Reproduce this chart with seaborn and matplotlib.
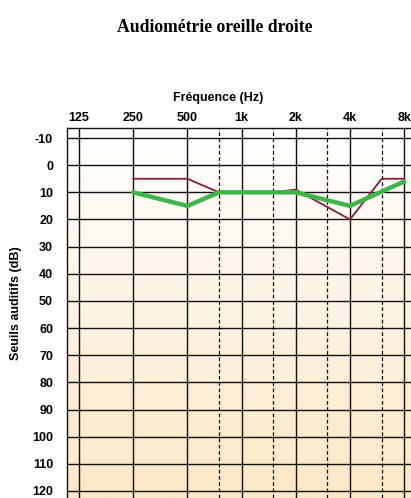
import numpy as np
import pandas as pd
import matplotlib
matplotlib.use("Agg")
import matplotlib.pyplot as plt
import seaborn as sns
from matplotlib.colors import LinearSegmentedColormap

# ---- data ----
freq_labels = ["125", "250", "500", "1k", "2k", "4k", "8k"]
octave_freqs = [125, 250, 500, 1000, 2000, 4000, 8000]
mid_freqs = [750, 1500, 3000, 6000]
db_ticks = list(range(-10, 130, 10))

red_freqs = [250, 500, 750, 1000, 1500, 2000, 4000, 6000, 8000]
red_db = [5, 5, 10, 10, 10, 9, 20, 5, 5]

green_freqs = [250, 500, 750, 1000, 1500, 2000, 4000, 8000]
green_db = [10, 15, 10, 10, 10, 10, 15, 6]

df_red = pd.DataFrame({"freq": red_freqs, "db": red_db})
df_green = pd.DataFrame({"freq": green_freqs, "db": green_db})

sns.set_style("white")
plt.rcParams["font.family"] = ["Liberation Sans", "DejaVu Sans"]
plt.rcParams["text.color"] = "black"
plt.rcParams["xtick.color"] = "black"
plt.rcParams["ytick.color"] = "black"

fig = plt.figure(figsize=(4.11, 4.98), dpi=100)
ax = fig.add_axes([67 / 411, 0.0, 1 - 67 / 411, 1 - 128 / 498])

# background gradient
cmap = LinearSegmentedColormap.from_list("bg", ["#FFFFFF", "#FDF3E2", "#FBE8C5"])
grad = np.linspace(0, 1, 256).reshape(-1, 1)
ax.imshow(grad, cmap=cmap, aspect="auto", extent=[0, 1, 0, 1],
          transform=ax.transAxes, origin="upper", zorder=0)

sns.lineplot(data=df_red, x="freq", y="db", ax=ax, color="#8A1B3E",
             lw=1.3, zorder=3, sort=False)
sns.lineplot(data=df_green, x="freq", y="db", ax=ax, color="#3DB54A",
             lw=3.2, zorder=4, sort=False)

ax.set_xscale("log", base=2)
ax.set_xlim(107.3, 8727)
ax.set_ylim(122.6, -13.7)

ax.xaxis.tick_top()
ax.set_xticks(octave_freqs)
ax.set_xticklabels(freq_labels, fontsize=9, fontweight="bold")
ax.set_xticks(mid_freqs, minor=True)
ax.set_xticklabels([], minor=True)
ax.set_yticks(db_ticks)
ax.set_yticklabels([str(v) for v in db_ticks], fontsize=9, fontweight="bold")
ax.tick_params(axis="both", which="both", length=0)
ax.tick_params(axis="y", pad=10)
ax.tick_params(axis="x", pad=3)

for f in octave_freqs:
    ax.axvline(f, color="#111111", lw=1.0, zorder=1)
for f in mid_freqs:
    ax.axvline(f, color="#111111", lw=0.9, ls=(0, (3, 2)), zorder=1)
for d in db_ticks:
    ax.axhline(d, color="#111111", lw=1.0, zorder=1)

for s in ["right", "bottom"]:
    ax.spines[s].set_visible(False)
for s in ["left", "top"]:
    ax.spines[s].set_color("#111111")
    ax.spines[s].set_linewidth(1.0)

ax.set_xlabel("")
ax.set_ylabel("")

fig.text(218 / 411, 1 - 98 / 498, "Fréquence (Hz)", ha="center", va="center",
         fontsize=9, fontweight="bold")
fig.text(16 / 411, 1 - 303 / 498, "Seuils auditifs (dB)", ha="center", va="center",
         rotation=90, fontsize=9, fontweight="bold")
fig.text(215 / 411, 1 - 27 / 498, "Audiométrie oreille droite", ha="center",
         va="center", fontsize=12.7, fontweight="bold",
         family=["Liberation Serif", "DejaVu Serif"])

fig.savefig("out.png", dpi=100, facecolor="white")
